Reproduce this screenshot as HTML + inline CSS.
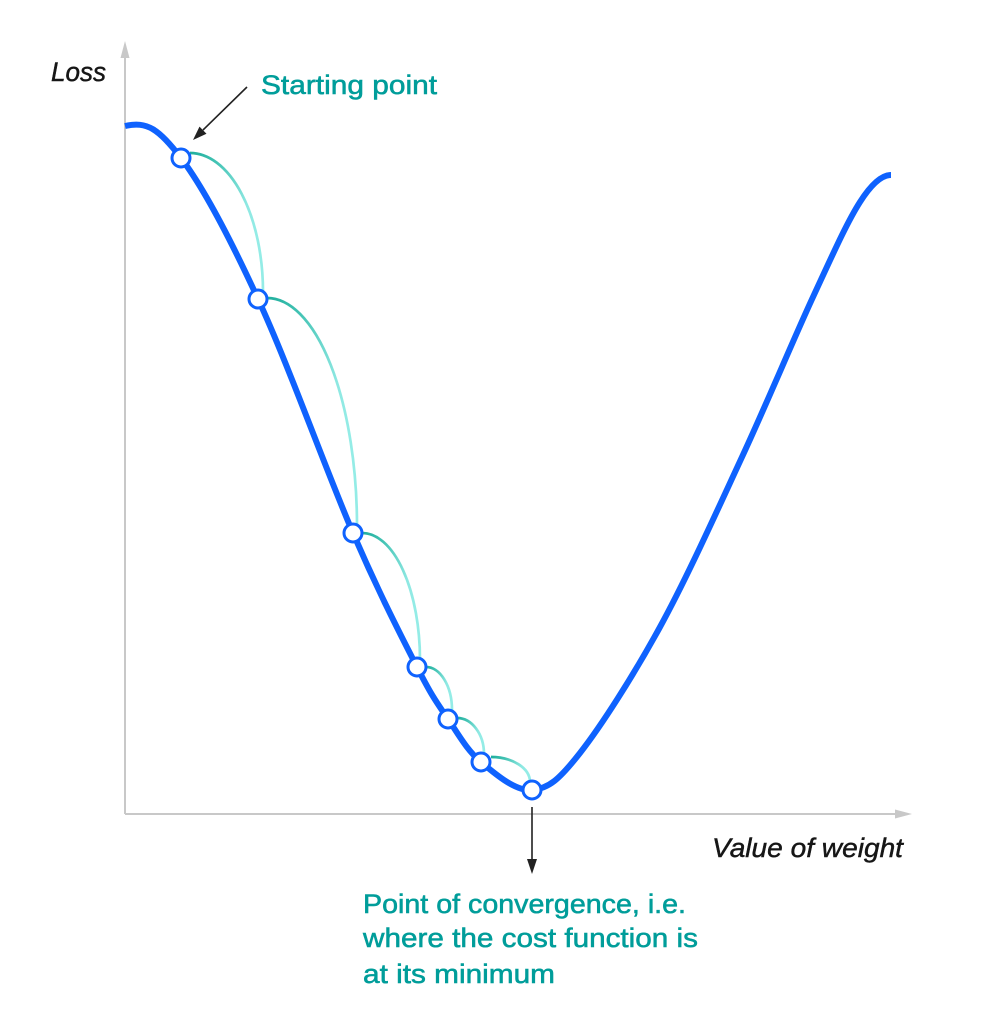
<!DOCTYPE html>
<html>
<head>
<meta charset="utf-8">
<style>
  html, body { margin: 0; padding: 0; background: #ffffff; }
  svg { display: block; }
  .teal { fill: #009d9a; stroke: #009d9a; stroke-width: 0.55px; font-family: "Liberation Sans", sans-serif; font-size: 26.5px; }
  .blk { fill: #161616; stroke: #161616; stroke-width: 0.45px; font-family: "Liberation Sans", sans-serif; font-size: 26.5px; font-style: italic; }
</style>
</head>
<body>
<svg width="1000" height="1030" viewBox="0 0 1000 1030" xmlns="http://www.w3.org/2000/svg">
  <defs>
    <linearGradient id="g" x1="0" y1="0" x2="1" y2="0.4">
      <stop offset="0" stop-color="#1fae9c"/>
      <stop offset="0.35" stop-color="#45c4b5"/>
      <stop offset="0.8" stop-color="#8ee8e2"/>
      <stop offset="1" stop-color="#94ece6"/>
    </linearGradient>
  </defs>

  <!-- axes -->
  <line x1="125" y1="56" x2="125" y2="814" stroke="#c8c8c8" stroke-width="2"/>
  <polygon points="125,41 120.5,58 129.5,58" fill="#c8c8c8"/>
  <line x1="125" y1="814" x2="897" y2="814" stroke="#c8c8c8" stroke-width="2"/>
  <polygon points="912,814 895,809.5 895,818.5" fill="#c8c8c8"/>

  <!-- main curve -->
  <path d="M125,126 C147,121 159,129 181,158 C203,187 229,236 258,299 C287,361 326.5,471.7 353,533 C379.5,594.3 401.2,636 417,667 C432.8,698 437.3,703.2 448,719 C458.7,734.8 467,750.2 481,762 C495,773.8 515.5,791.5 532,790 C548.5,788.5 558.7,780.2 580,753 C601.3,725.8 633,676.3 660,627 C687,577.7 716.5,512 742,457 C767.5,402 793.3,339.5 813,297 C832.7,254.5 847,222.3 860,202 C873,181.7 883,175 891,175"
        fill="none" stroke="#0f62fe" stroke-width="6" stroke-linecap="butt" stroke-linejoin="round"/>

  <!-- step arcs -->
  <g fill="none" stroke="url(#g)" stroke-width="2.7">
    <path d="M190,153 A73,139 0 0 1 263,292"/>
    <path d="M267,298 A90,228 0 0 1 357,526"/>
    <path d="M362,533 A58,127 0 0 1 420,660"/>
    <path d="M426,667 A26,43 0 0 1 452,710"/>
    <path d="M457,718 A27,36 0 0 1 484,754"/>
    <path d="M491,757 A39,25 0 0 1 530,782"/>
  </g>

  <!-- points -->
  <g fill="#ffffff" stroke="#0f62fe" stroke-width="3">
    <circle cx="181" cy="158" r="9"/>
    <circle cx="258" cy="299" r="9"/>
    <circle cx="353" cy="533" r="9"/>
    <circle cx="417" cy="667" r="9"/>
    <circle cx="448" cy="719" r="9"/>
    <circle cx="481" cy="762" r="9"/>
    <circle cx="532" cy="790" r="9"/>
  </g>

  <!-- annotation arrows -->
  <line x1="247" y1="87" x2="203" y2="130" stroke="#222222" stroke-width="1.6"/>
  <polygon points="193,140 206.5,133.8 199.5,126.6" fill="#222222"/>
  <line x1="532" y1="807" x2="532" y2="862" stroke="#222222" stroke-width="1.6"/>
  <polygon points="532,874 527,859 537,859" fill="#222222"/>

  <!-- labels -->
  <text class="blk" x="51" y="81" textLength="55" lengthAdjust="spacingAndGlyphs">Loss</text>
  <text class="teal" x="261" y="94" textLength="176" lengthAdjust="spacingAndGlyphs">Starting point</text>
  <text class="blk" x="712" y="857" textLength="191" lengthAdjust="spacingAndGlyphs">Value of weight</text>
  <text class="teal" x="363" y="913" textLength="323" lengthAdjust="spacingAndGlyphs">Point of convergence, i.e.</text>
  <text class="teal" x="363" y="947" textLength="335" lengthAdjust="spacingAndGlyphs">where the cost function is</text>
  <text class="teal" x="363" y="983" textLength="192" lengthAdjust="spacingAndGlyphs">at its minimum</text>
</svg>
</body>
</html>
